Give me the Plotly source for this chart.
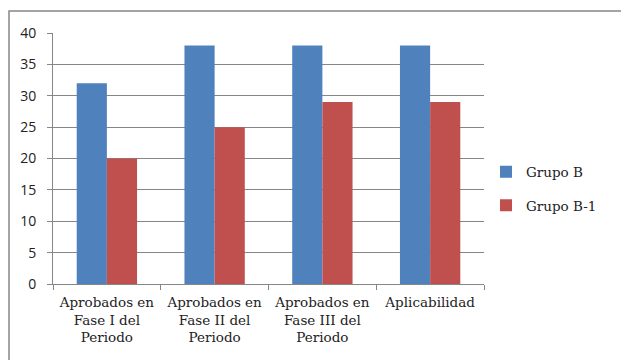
import plotly.graph_objects as go

# Chart data
categories = [
    "Aprobados en<br>Fase I del<br>Periodo",
    "Aprobados en<br>Fase II del<br>Periodo",
    "Aprobados en<br>Fase III del<br>Periodo",
    "Aplicabilidad",
]
grupo_b = [32, 38, 38, 38]
grupo_b1 = [20, 25, 29, 29]
y_ticks = [0, 5, 10, 15, 20, 25, 30, 35, 40]

W, H = 621, 360
ML, MR, MT, MB = 53, 137, 33, 76
pw, ph = W - ML - MR, H - MT - MB

SERIF = "DejaVu Serif"

fig = go.Figure()
fig.add_trace(go.Bar(name="Grupo B", x=categories, y=grupo_b,
                     marker=dict(color="#4F81BD", line=dict(width=0)),
                     legendgroup="a"))
fig.add_trace(go.Bar(name="Grupo B-1", x=categories, y=grupo_b1,
                     marker=dict(color="#C0504D", line=dict(width=0)),
                     legendgroup="b"))

# Outer frame around the whole chart (paper coordinates)
def px_x(x):
    return (x - ML) / pw

def px_y(y):
    return (H - MB - y) / ph

fig.add_shape(type="rect", xref="paper", yref="paper",
              x0=px_x(9), x1=px_x(630), y0=px_y(370), y1=px_y(11),
              line=dict(color="#868686", width=1.5), fillcolor="rgba(0,0,0,0)",
              layer="below")

fig.update_layout(
    width=W, height=H,
    margin=dict(l=ML, r=MR, t=MT, b=MB, autoexpand=False),
    paper_bgcolor="white", plot_bgcolor="white",
    barmode="group", bargap=0.44, bargroupgap=0,
    showlegend=True,
    legend=dict(x=px_x(486), y=px_y(189), xanchor="left", yanchor="middle",
                font=dict(family=SERIF, size=13.5, color="#222"),
                tracegroupgap=13, itemwidth=30,
                bgcolor="rgba(0,0,0,0)"),
    xaxis=dict(
        showline=True, linecolor="#868686", linewidth=1,
        ticks="outside", tickson="boundaries", ticklen=5, tickcolor="#868686",
        tickangle=0, ticklabelstandoff=6,
        tickfont=dict(family=SERIF, size=13.5, color="#222"),
        showgrid=False,
    ),
    yaxis=dict(
        range=[0, 40], tickvals=y_ticks,
        showline=True, linecolor="#868686", linewidth=1,
        ticks="outside", ticklen=5, tickcolor="#868686",
        ticklabelstandoff=8,
        showgrid=True, gridcolor="#868686", gridwidth=1,
        zeroline=False,
        tickfont=dict(family="Open Sans", size=14, color="#222"),
    ),
)

fig.write_html("out.html")
